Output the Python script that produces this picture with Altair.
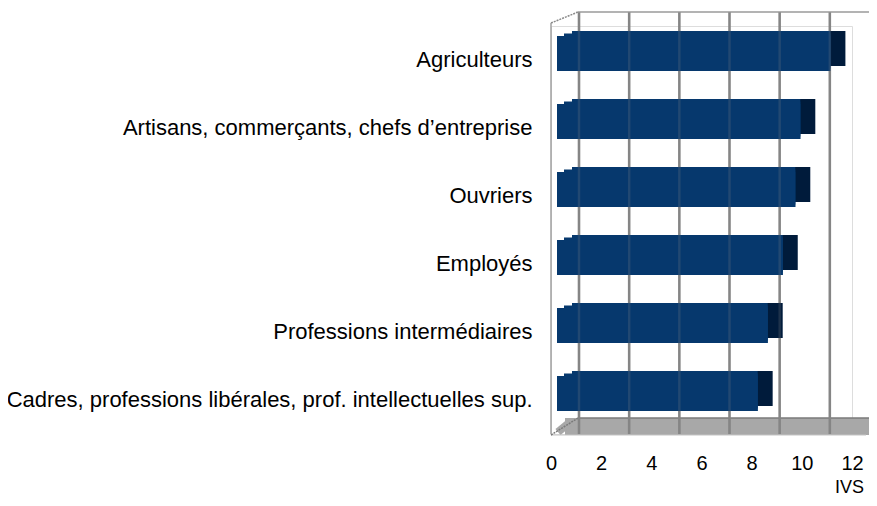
import altair as alt
import pandas as pd

categories = [
    "Agriculteurs",
    "Artisans, commerçants, chefs d’entreprise",
    "Ouvriers",
    "Employés",
    "Professions intermédiaires",
    "Cadres, professions libérales, prof. intellectuelles sup.",
]
ivs = [10.9, 9.7, 9.5, 9.0, 8.4, 8.0]
ticks = [0, 2, 4, 6, 8, 10, 12]

df = pd.DataFrame({"cat": categories, "ivs": ivs})
grid_df = pd.DataFrame({"t": ticks})

W, H = 301, 408
FONT = "Liberation Sans"
BLUE = "#06386d"
DARK = "#001b3b"
GRID = "#868686"

xscale = alt.Scale(domain=[0, 12], nice=False, zero=True)
yscale = alt.Scale(domain=categories, paddingInner=0.41, paddingOuter=0.205)

XAXIS = alt.Axis(
    values=ticks,
    title="IVS",
    labelFontSize=20,
    labelFont=FONT,
    labelColor="#000000",
    labelPadding=19,
    labelFlush=False,
    ticks=False,
    domain=False,
    grid=False,
    titleFont=FONT,
    titleFontSize=18,
    titleFontWeight="normal",
    titleColor="#000000",
    titleX=298,
    titleY=58,
    titleAlign="center",
    titleBaseline="alphabetic",
)
YAXIS = alt.Axis(
    title=None,
    ticks=False,
    domain=False,
    grid=False,
    labelFont=FONT,
    labelFontSize=22,
    labelColor="#000000",
    labelPadding=19,
    labelLimit=700,
)


def xf(field):
    return alt.X(field, scale=xscale, axis=XAXIS)


def yf():
    return alt.Y("cat:N", scale=yscale, sort=categories, axis=YAXIS)


one = alt.Chart(grid_df).transform_filter(alt.datum.t == 0)
wall = alt.Chart(grid_df).transform_filter(alt.datum.t < 12)

# floor
floor = one.mark_rect(color="#a8a8a8", xOffset=14, x2Offset=22).encode(
    x=xf("t:Q"), x2=alt.X2(datum=12), y=alt.value(H - 16), y2=alt.value(H + 1)
)
floor_fill_diag = one.mark_rule(color="#a8a8a8", strokeWidth=8, xOffset=7, x2Offset=18).encode(
    x=xf("t:Q"), x2=alt.X2(datum=0), y=alt.value(H - 2), y2=alt.value(H - 11)
)
floor_back = one.mark_rule(color="#7a7a7a", strokeWidth=1.5, xOffset=27, x2Offset=40).encode(
    x=xf("t:Q"), x2=alt.X2(datum=12), y=alt.value(H - 16)
)
floor_front = one.mark_rule(color="#c4c4c4", strokeWidth=1, x2Offset=14).encode(
    x=xf("t:Q"), x2=alt.X2(datum=12), y=alt.value(H + 1)
)
floor_diag = one.mark_rule(color="#7a7a7a", strokeWidth=1.5, strokeDash=[2, 1], x2Offset=27).encode(
    x=xf("t:Q"), x2=alt.X2(datum=0), y=alt.value(H + 1), y2=alt.value(H - 16)
)

# back wall gridlines
grid = wall.mark_rule(
    color=GRID, strokeWidth=2.5, xOffset=28, yOffset=-14, y2Offset=-16
).encode(x=xf("t:Q"))

top_edge = one.mark_rule(color="#9a9a9a", strokeWidth=1.5, xOffset=27, x2Offset=40, yOffset=-14).encode(
    x=xf("t:Q"), x2=alt.X2(datum=12), y=alt.value(0)
)
top_diag = one.mark_rule(color="#8a8a8a", strokeWidth=1.5, strokeDash=[2, 1], x2Offset=27).encode(
    x=xf("t:Q"), x2=alt.X2(datum=0), y=alt.value(-3), y2=alt.value(-14)
)
left_wall = one.mark_rule(color="#a0a0a0", strokeWidth=1.5, yOffset=-3).encode(x=xf("t:Q"))

# bars (pseudo 3D: side face, top face in two steps, front face)
bar_side = alt.Chart(df).mark_bar(color=DARK, xOffset=21, x2Offset=21, yOffset=-11.5, height=35).encode(
    x=xf("ivs:Q"), x2=alt.X2(datum=0), y=yf()
)
bar_top = alt.Chart(df).mark_bar(color=BLUE, xOffset=6, x2Offset=21, yOffset=-11.5, height=35).encode(
    x=xf("ivs:Q"), x2=alt.X2(datum=0), y=yf()
)
bar_mid = alt.Chart(df).mark_bar(color=BLUE, xOffset=6, x2Offset=13, yOffset=-9, height=35).encode(
    x=xf("ivs:Q"), x2=alt.X2(datum=0), y=yf()
)
bar_front = alt.Chart(df).mark_bar(color=BLUE, xOffset=6, x2Offset=6, yOffset=-6.5, height=35).encode(
    x=xf("ivs:Q"), x2=alt.X2(datum=0), y=yf()
)

grid_over = wall.mark_rule(
    color=GRID, strokeWidth=2.5, opacity=0.22, xOffset=28, yOffset=-14, y2Offset=-16
).encode(x=xf("t:Q"))

chart = (
    alt.layer(
        bar_front, floor, floor_fill_diag, floor_back, floor_front, floor_diag, grid, top_edge,
        top_diag, left_wall, bar_side, bar_top, bar_mid, bar_front, grid_over,
    )
    .properties(
        width=W,
        height=H,
        autosize=alt.AutoSizeParams(type="none"),
        padding={"left": 543, "top": 18, "right": 17, "bottom": 64},
    )
    .configure_view(stroke="transparent", strokeWidth=0)
    .configure(background="white")
)

chart.save("out.html", embed_options={"renderer": "svg", "actions": False})
